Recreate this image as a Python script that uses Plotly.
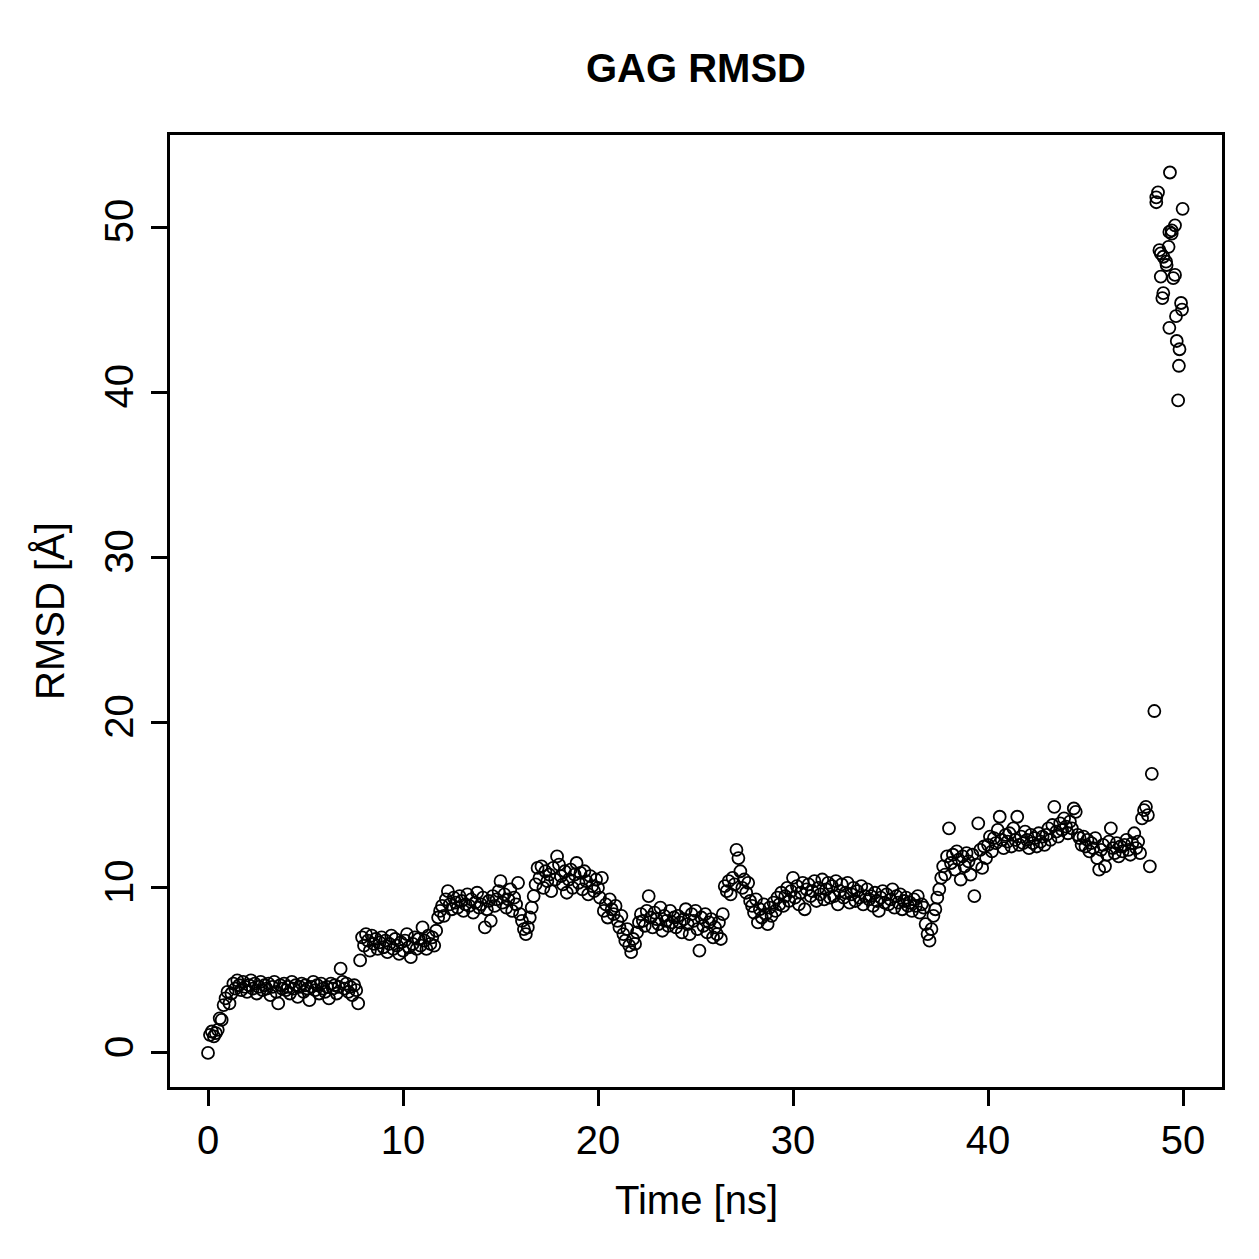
import numpy as np
import plotly.graph_objects as go

time_step_ns = 0.1
rmsd_main = [
    0.0, 1.1, 1.3, 1.0, 1.2, 1.4, 2.1, 2.0, 2.9, 3.3,
    3.7, 3.0, 3.6, 4.2, 3.9, 4.4, 4.1, 3.8, 4.3, 4.0,
    3.7, 4.1, 4.4, 3.9, 4.2, 3.6, 4.0, 4.3, 3.8, 4.1,
    3.9, 4.2, 3.5, 4.0, 4.3, 3.7, 3.0, 4.1, 3.9, 4.2,
    3.8, 4.0, 3.6, 4.3, 3.9, 4.1, 3.4, 4.0, 4.2, 3.7,
    4.1, 3.9, 3.2, 4.0, 4.3, 3.8, 4.1, 3.6, 4.2, 3.9,
    3.7, 4.0, 3.3, 4.2, 3.9, 4.1, 3.6, 4.0, 5.1, 4.3,
    3.9, 4.2, 3.7, 4.0, 3.5, 4.1, 3.8, 3.0, 5.6, 7.0,
    6.5, 7.2, 6.8, 6.2, 7.1, 6.6, 6.9, 6.3, 6.7, 7.0,
    6.4, 6.8, 6.1, 6.6, 7.1, 6.3, 6.9, 6.5, 6.0, 6.7,
    6.2, 6.8, 7.2, 6.4, 5.8, 6.6, 7.0, 6.3, 6.9, 6.5,
    7.6, 6.8, 6.3, 7.1, 6.6, 7.0, 6.5, 7.4, 8.2, 8.6,
    8.9, 8.3, 9.3, 9.8, 9.0, 8.7, 9.4, 9.1, 8.8, 9.5,
    9.2, 8.6, 9.0, 9.6, 8.9, 9.3, 8.5, 9.1, 9.7, 8.8,
    9.0, 9.4, 7.6, 8.7, 9.2, 8.0, 9.5, 8.9, 9.3, 9.8,
    10.4, 9.1, 9.6, 8.8, 9.3, 9.9, 8.6, 9.4, 9.0, 10.3,
    8.4, 8.0, 7.5, 7.2, 7.6, 8.2, 8.8, 9.5, 10.2, 11.2,
    10.6, 11.3, 10.0, 11.0, 10.4, 10.8, 9.8, 11.2, 10.5, 11.9,
    11.4, 10.7, 10.2, 11.0, 9.7, 10.5, 11.1, 10.0, 10.8, 11.5,
    10.3, 10.9, 9.9, 11.0, 10.4, 9.6, 10.7, 10.1, 9.8, 10.5,
    10.0, 9.4, 10.6, 8.6, 9.0, 8.2, 9.3, 8.7, 8.4, 8.9,
    8.0, 7.6, 8.3, 7.2, 6.8, 7.5, 6.5, 6.1, 6.9, 6.6,
    7.3, 7.9, 8.4, 8.0, 7.7, 8.6, 9.5, 8.2, 7.6, 8.5,
    8.1, 7.8, 8.8, 7.4, 8.3, 8.0, 7.7, 8.6, 7.9, 8.2,
    7.6, 8.3, 7.9, 7.3, 8.1, 8.7, 7.8, 7.2, 8.4, 8.0,
    8.6, 7.5, 6.2, 8.2, 7.7, 8.4, 7.3, 7.9, 8.1, 7.0,
    7.6, 7.2, 7.9, 6.9, 8.4, 10.1, 9.8, 10.4, 9.6, 10.6,
    10.2, 12.3, 11.8, 11.0, 10.0, 10.5, 9.7, 10.3, 9.2, 8.9,
    8.5, 9.3, 7.9, 8.7, 8.2, 9.0, 8.4, 7.8, 8.8, 8.3,
    9.1, 8.6, 9.4, 9.0, 9.7, 8.9, 9.5, 10.0, 9.2, 9.8,
    10.6, 9.4, 10.1, 9.0, 9.7, 10.3, 8.7, 9.9, 10.2, 9.5,
    9.8, 10.4, 9.2, 10.0, 9.6, 10.5, 9.3, 9.9, 10.3, 9.4,
    10.1, 9.5, 10.4, 9.0, 9.8, 10.2, 9.4, 9.7, 10.3, 9.1,
    9.6, 10.0, 9.2, 9.8, 9.4, 10.1, 9.0, 9.5, 9.9, 9.3,
    9.5, 8.9, 9.7, 9.2, 8.6, 9.4, 9.8, 9.1, 9.6, 9.0,
    9.3, 9.9, 8.8, 9.5, 9.1, 9.6, 8.7, 9.2, 9.4, 8.9,
    9.1, 8.6, 9.3, 8.9, 9.5, 8.5, 9.0, 8.8, 7.8, 7.2,
    6.8, 7.5, 8.3, 8.7, 9.4, 9.9, 10.6, 11.3, 10.8, 11.9,
    13.6, 11.5, 12.0, 11.1, 12.2, 11.7, 10.5, 11.9, 11.3, 12.1,
    11.6, 10.8, 12.0, 9.5, 11.4, 13.9, 12.3, 11.2, 12.5, 11.8,
    12.6, 13.1, 12.2, 13.0, 12.7, 13.5, 14.3, 12.9, 12.4, 13.2,
    12.8, 13.3, 12.5, 13.6, 12.9, 14.3, 12.6, 13.1, 12.7, 13.4,
    12.9, 12.4, 13.2, 12.7, 13.0, 12.5, 13.3, 12.8, 13.1, 12.6,
    13.2, 13.6, 12.9, 13.8, 14.9, 13.4, 13.1, 13.9, 13.5, 14.2,
    13.7, 13.3, 14.0, 13.6, 14.8, 14.6, 13.2, 13.0, 12.6, 13.1,
    12.5, 12.9, 12.2, 12.7, 12.4, 13.0, 11.8, 11.1, 12.3, 12.6,
    11.3, 12.0, 12.8, 13.6, 12.4, 12.1, 12.7, 11.9, 12.5, 12.2,
    12.6, 12.9, 12.3, 12.0, 12.7, 13.3, 12.4, 12.8, 12.1, 14.2,
    14.7, 14.9, 14.4, 11.3, 16.9,
]

# Final frames (after 48.4 ns), read individually
tail_time = [48.53, 48.72, 48.63, 48.63, 49.33, 49.98, 49.59, 49.42, 49.30, 49.42,
             49.26, 48.79, 48.86, 48.99, 49.13, 49.16, 48.86, 49.59, 49.50, 48.99,
             48.94, 49.90, 49.95, 49.64, 49.30, 49.68, 49.82, 49.79, 49.75]
tail_rmsd = [20.7, 52.1, 51.8, 51.5, 53.3, 51.1, 50.1, 49.8, 49.7, 49.6,
             48.8, 48.6, 48.4, 48.2, 47.9, 47.7, 47.0, 47.1, 46.9, 46.0,
             45.7, 45.4, 45.0, 44.6, 43.9, 43.1, 42.6, 41.6, 39.5]

x_ticks = [0, 10, 20, 30, 40, 50]
y_ticks = [0, 10, 20, 30, 40, 50]

main_time = list(np.round(np.arange(len(rmsd_main)) * time_step_ns, 2))
all_time = main_time + tail_time
all_rmsd = rmsd_main + tail_rmsd

W = H = 1259
L, R, T, B = 170, 1222, 135, 1087
FONT = "Liberation Sans, Arial, Helvetica, sans-serif"

fig = go.Figure()
fig.add_trace(go.Scatter(
    x=all_time, y=all_rmsd, mode="markers",
    marker=dict(symbol="circle-open", size=12, color="black",
                line=dict(color="black", width=1.8)),
    showlegend=False, hoverinfo="skip",
))

axis_common = dict(
    showgrid=False, zeroline=False, showline=True, mirror=True,
    linecolor="black", linewidth=2.5,
    ticks="outside", ticklen=16, tickwidth=2.5, tickcolor="black",
    tickfont=dict(family=FONT, size=40, color="black"),
)

fig.update_layout(
    width=W, height=H,
    margin=dict(l=L, r=W - R, t=T, b=H - B, pad=0),
    paper_bgcolor="white", plot_bgcolor="white",
    title=dict(text="<b>GAG RMSD</b>", x=0.5, xref="paper",
               y=1 - 68 / H, yref="container", yanchor="middle", xanchor="center",
               font=dict(family=FONT, size=40, color="black")),
    xaxis=dict(range=[-1.95, 52.0], tickvals=x_ticks,
               ticktext=[str(v) for v in x_ticks], ticklabelstandoff=0, **axis_common),
    yaxis=dict(range=[-2.06, 55.57], tickvals=y_ticks,
               ticktext=[str(v) for v in y_ticks], tickangle=-90,
               ticklabelstandoff=2, **axis_common),
    annotations=[
        dict(text="Time [ns]", xref="paper", yref="paper",
             x=0.5, y=(B - 1200) / (B - T), xanchor="center", yanchor="middle",
             showarrow=False, font=dict(family=FONT, size=40, color="black")),
        dict(text="RMSD [Å]", xref="paper", yref="paper",
             x=(50 - L) / (R - L), y=0.5, xanchor="center", yanchor="middle",
             textangle=-90, showarrow=False,
             font=dict(family=FONT, size=40, color="black")),
    ],
)

fig.write_html("out.html")
